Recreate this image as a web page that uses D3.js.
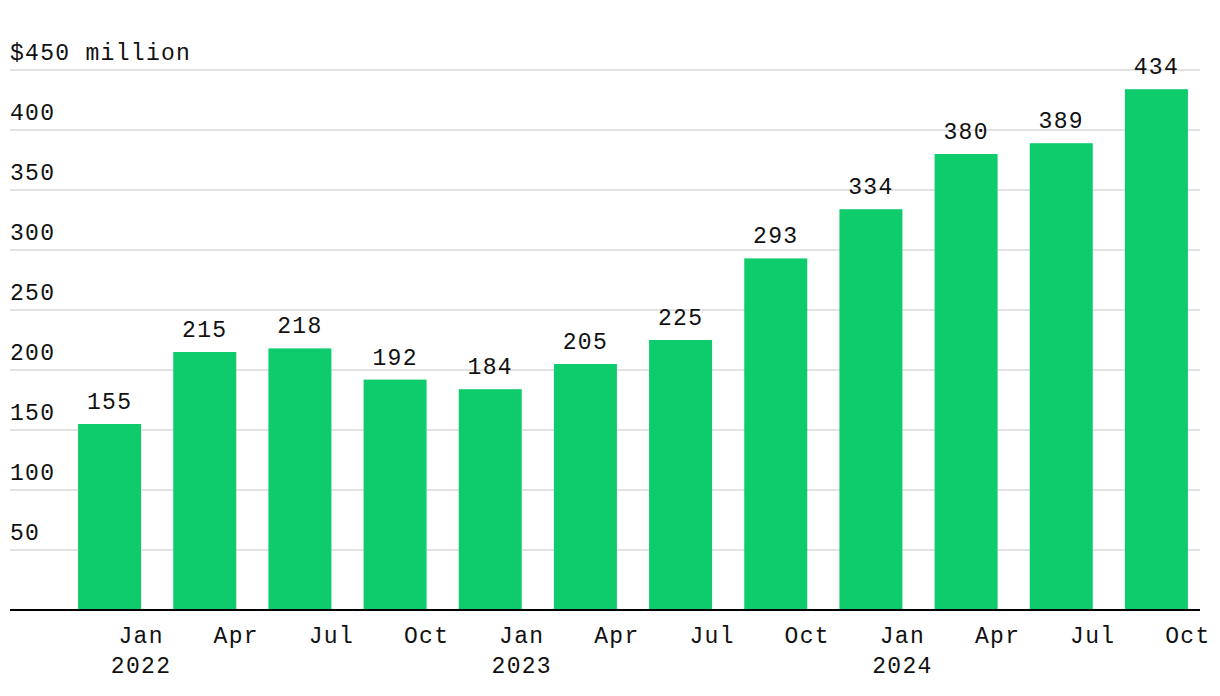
<!DOCTYPE html>
<html><head><meta charset="utf-8">
<script src="https://cdn.jsdelivr.net/npm/d3@7"></script>
<style>
body{margin:0;background:#fff;}
text{font-family:"Liberation Mono","DejaVu Sans Mono",monospace;font-size:23px;fill:#111;letter-spacing:1.3px;}
</style></head><body>
<svg id="c" width="1220" height="696"></svg>
<script>
const quarters = ["Q1 2022","Q2 2022","Q3 2022","Q4 2022","Q1 2023","Q2 2023","Q3 2023","Q4 2023","Q1 2024","Q2 2024","Q3 2024","Q4 2024"];
const values = [155,215,218,192,184,205,225,293,334,380,389,434];
const monthLabels = ["Jan","Apr","Jul","Oct","Jan","Apr","Jul","Oct","Jan","Apr","Jul","Oct"];
const yearLabels = ["2022","","","","2023","","","","2024","","",""];
const yTicks = [50,100,150,200,250,300,350,400,450];

const svg = d3.select("#c");
const x = d3.scaleBand().domain(quarters).range([62,1204]).paddingInner(0.338).paddingOuter(0.169);
const y = d3.scaleLinear().domain([0,450]).range([610,70]);

// gridlines
svg.append("g").selectAll("line").data(yTicks).join("line")
  .attr("x1",10).attr("x2",1200).attr("y1",d=>y(d)).attr("y2",d=>y(d))
  .attr("stroke","#e2e2e2").attr("stroke-width",2);
svg.append("g").selectAll("text").data(yTicks).join("text")
  .attr("x",10).attr("y",d=>y(d)-10)
  .text(d=>d===450?"$450 million":d);

// bars
svg.append("g").selectAll("rect").data(values).join("rect")
  .attr("x",(d,i)=>x(quarters[i])).attr("width",x.bandwidth())
  .attr("y",d=>y(d)).attr("height",d=>y(0)-y(d)).attr("fill","#0ecc6b");

// value labels
svg.append("g").selectAll("text").data(values).join("text")
  .attr("x",(d,i)=>x(quarters[i])+x.bandwidth()/2).attr("y",d=>y(d)-15)
  .attr("text-anchor","middle").text(d=>d);

// baseline
svg.append("line").attr("x1",10).attr("x2",1200).attr("y1",y(0)).attr("y2",y(0))
  .attr("stroke","#000").attr("stroke-width",2);

// x labels
const xl = svg.append("g");
xl.selectAll("text.m").data(monthLabels).join("text").attr("class","m")
  .attr("x",(d,i)=>x(quarters[i])+x.bandwidth()).attr("y",643)
  .attr("text-anchor","middle").text(d=>d);
xl.selectAll("text.yr").data(yearLabels).join("text").attr("class","yr")
  .attr("x",(d,i)=>x(quarters[i])+x.bandwidth()).attr("y",673)
  .attr("text-anchor","middle").text(d=>d);
</script>
</body></html>
